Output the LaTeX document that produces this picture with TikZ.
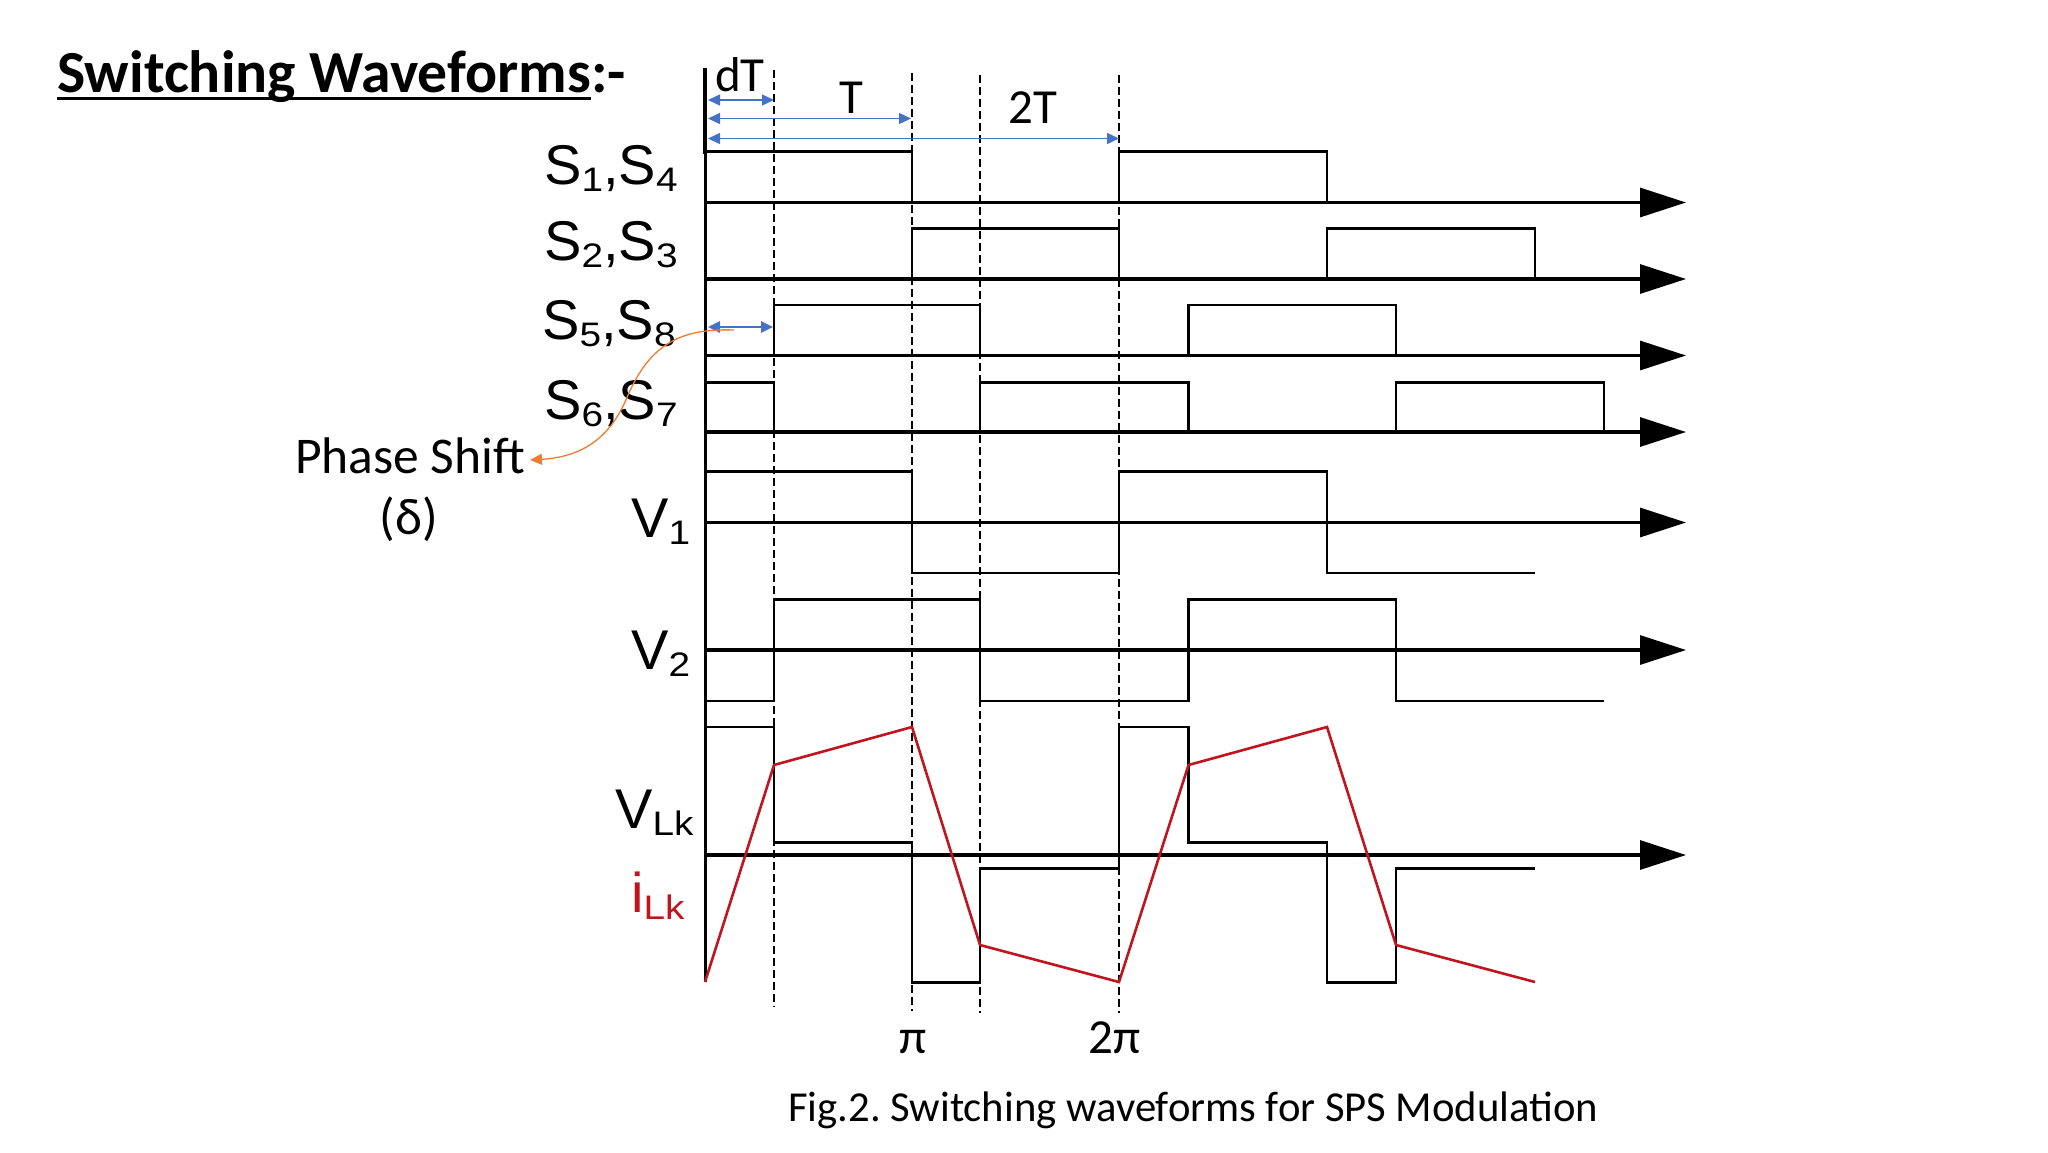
\documentclass[tikz,border=0pt]{standalone}
\usepackage{fontspec}
\setmainfont{Carlito}
\newfontfamily\labelfont{Liberation Sans}
\usetikzlibrary{arrows.meta}
\definecolor{arrowblue}{HTML}{4472C4}
\definecolor{arroworange}{HTML}{ED7D31}
\definecolor{currentred}{HTML}{C0141E}
\newcommand{\fsz}[1]{\fontsize{#1}{#1}\selectfont}
\newcommand{\dn}[1]{\raisebox{-7pt}{\scalebox{1.14}[1]{\fsz{34}#1}}}
\tikzset{
    wave/.style={black, line width=2.8pt, line join=miter},
    axisline/.style={black, line width=3.2pt, -{Triangle[length=46pt,width=29pt]}},
    guide/.style={black, line width=1.3pt, dash pattern=on 8pt off 4pt},
    span/.style={arrowblue, line width=1.4pt, {Triangle[length=12pt,width=11pt]}-{Triangle[length=12pt,width=11pt]}},
    txt/.style={inner sep=0pt, anchor=base west, font=\fsz{49}},
    sig/.style={inner sep=0pt, anchor=base west, font=\labelfont\fsz{56}},
}
\begin{document}
\frenchspacing
\begin{tikzpicture}[x=1pt,y=-1pt]
    \useasboundingbox (0,0) rectangle (2048,1152);
    % guides
    \draw[guide] (774,70) -- (774,1007);
    \draw[guide] (912,73) -- (912,1011);
    \draw[guide] (980,75) -- (980,1013);
    \draw[guide] (1119,75) -- (1119,1013);
    % vertical axis
    \draw[black, line width=3pt] (705,982) -- (705,152);
    \draw[black, line width=4pt] (705,154) -- (705,68);
    % time axes
    \foreach \ya in {202.5,279,355.5,432,522.5,650,855}
        \draw[axisline] (705,\ya) -- (1686,\ya);
    % switching signals
    \draw[wave] (705,151.5) -- (912,151.5) -- (912,202.5);
    \draw[wave] (1119,202.5) -- (1119,151.5) -- (1327,151.5) -- (1327,202.5);
    \draw[wave] (912,279) -- (912,228.5) -- (1119,228.5) -- (1119,279);
    \draw[wave] (1327,279) -- (1327,228.5) -- (1535,228.5) -- (1535,279);
    \draw[wave] (774,355.5) -- (774,305) -- (980,305) -- (980,355.5);
    \draw[wave] (1188.5,355.5) -- (1188.5,305) -- (1396,305) -- (1396,355.5);
    \draw[wave] (705,382.5) -- (774,382.5) -- (774,432);
    \draw[wave] (980,432) -- (980,382.5) -- (1188.5,382.5) -- (1188.5,431);
    \draw[wave] (1396,432) -- (1396,382.5) -- (1604,382.5) -- (1604,432);
    % bridge voltages
    \draw[wave] (705,471.5) -- (912,471.5) -- (912,573) -- (1119,573) -- (1119,471.5)
        -- (1327,471.5) -- (1327,573) -- (1535,573);
    \draw[wave] (705,701) -- (774,701) -- (774,599.5) -- (980,599.5) -- (980,701)
        -- (1188.5,701) -- (1188.5,599.5) -- (1396,599.5) -- (1396,701) -- (1604,701);
    \draw[wave] (705,727) -- (774,727) -- (774,842.7) -- (912,842.7) -- (912,982.7)
        -- (980,982.7) -- (980,868.3) -- (1119,868.3) -- (1119,727) -- (1188.5,727)
        -- (1188.5,842.7) -- (1327,842.7) -- (1327,982.7) -- (1396,982.7)
        -- (1396,868.3) -- (1535,868.3);
    % inductor current
    \draw[currentred, line width=2.6pt] (705,982) -- (774,765) -- (912,727) -- (980,945)
        -- (1119,982) -- (1188.5,765) -- (1327,727) -- (1396,945) -- (1535,982);
    % spans
    \draw[span] (708,100) -- (774,100);
    \draw[span] (708,118.5) -- (911,118.5);
    \draw[span] (708,138.5) -- (1119,138.5);
    \draw[span, line width=2.6pt] (708,327) -- (773,327);
    % labels
    \node[sig] (s14) at (544,184) {S\dn{1},S\dn{4}};
    \node[sig] (s23) at (544,260) {S\dn{2},S\dn{3}};
    \node[sig] (s58) at (542,339) {S\dn{5},S\dn{8}};
    \node[sig] (s67) at (544,419) {S\dn{6},S\dn{7}};
    \node[sig] (v1) at (631,537) {V\dn{1}};
    \node[sig] (v2) at (631,669) {V\dn{2}};
    \node[sig] (vlk) at (615,828) {V\dn{Lk}};
    \node[sig, text=currentred] (ilk) at (631,912) {i\dn{Lk}};
    \node[txt] (dt) at (715,91) {dT};
    \node[txt] (t) at (839,113.5) {T};
    \node[txt] (twot) at (1008,123) {2T};
    \node[txt] (pi1) at (899,1053) {π};
    \node[txt] (pi2) at (1088,1053) {2π};
    \node[txt, font=\fsz{51.5}] (phase) at (295,473) {Phase Shift};
    \node[txt, anchor=base, font=\fsz{51.5}] (delta) at (409,534) {(δ)};
    \node[txt, font=\fsz{42.7}] (caption) at (788,1121) {Fig.2. Switching waveforms for SPS Modulation};
    % title
    \node[txt, font=\bfseries\fsz{59.7}] (title) at (57,92) {Switching Waveforms};
    \node[txt, font=\bfseries\fsz{59.7}, anchor=base west] (titleend) at (title.base east) {:-};
    \draw[black, line width=3pt] ([yshift=-6pt]title.base west) -- ([yshift=-6pt]title.base east);
    % phase shift pointer
    \draw[arroworange, line width=1.3pt, -{Triangle[length=12pt,width=11pt]}] (734,330)
        .. controls (680,328) and (650,345) .. (628,395)
        .. controls (610,440) and (580,457) .. (530,460);
\end{tikzpicture}
\end{document}
